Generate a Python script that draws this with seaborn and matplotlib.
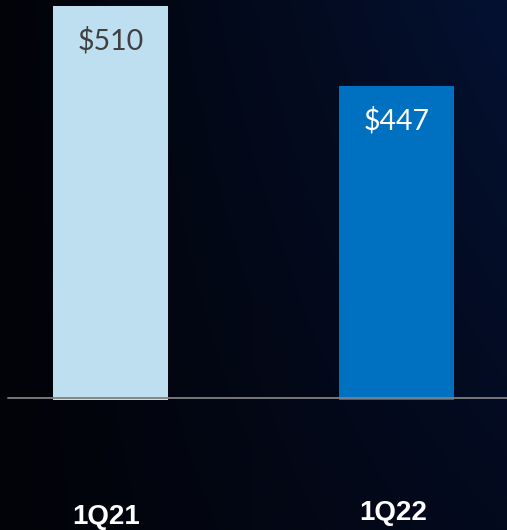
import numpy as np
import pandas as pd
import seaborn as sns
import matplotlib.pyplot as plt
from matplotlib.colors import to_rgb

# chart data
quarters = ['1Q21', '1Q22']
revenue = [510, 447]
value_labels = ['$510', '$447']
bar_colors = ['#BDDFF0', '#0070C0']
label_colors = ['#404040', '#FFFFFF']

df = pd.DataFrame({'quarter': quarters, 'revenue': revenue})

sns.set_theme(style='white')
plt.rcParams['font.family'] = ['Lato', 'DejaVu Sans']

fig = plt.figure(figsize=(5.07, 5.30), dpi=100)

# background gradient: black on the left to dark navy on the right
bg = fig.add_axes([0, 0, 1, 1], zorder=0)
h, w = 100, 200
tx = np.linspace(0, 1, w)[None, :, None]
ty = np.linspace(0, 1, h)[:, None, None]
left = np.array(to_rgb('#020308'))
right_top = np.array(to_rgb('#041131'))
right_bot = np.array(to_rgb('#040a1e'))
right = right_top * (1 - ty) + right_bot * ty
grad = left * (1 - tx) + right * tx
bg.imshow(grad, aspect='auto', extent=[0, 1, 0, 1], origin='upper')
bg.axis('off')

ax = fig.add_axes([0, 130 / 530, 1, 400 / 530], zorder=1)
ax.patch.set_alpha(0)
sns.barplot(data=df, x='quarter', y='revenue', hue='quarter',
            palette=bar_colors, width=0.402, saturation=1,
            edgecolor='none', linewidth=0, legend=False, ax=ax)

ax.set_xlim(-0.386, 1.386)
ax.set_ylim(200, 514.7)
ax.axhline(201.6, xmin=0.016, xmax=1, color='#808080', lw=1.3, zorder=3)

for i, (v, lab) in enumerate(zip(revenue, value_labels)):
    ax.text(i, v - 27, lab, ha='center', va='center', fontsize=20.5,
            color=label_colors[i])

# category labels under the axis
offsets = [(-4, -117), (-3, -113)]
for i, q in enumerate(quarters):
    ax.annotate(q, xy=(i, 200), xytext=offsets[i], textcoords='offset pixels',
                ha='center', va='center', fontsize=20, fontweight='bold',
                color='white', family=['Liberation Sans', 'DejaVu Sans'],
                annotation_clip=False)

ax.set_xlabel('')
ax.set_ylabel('')
ax.set_xticks([])
ax.set_yticks([])
sns.despine(ax=ax, left=True, bottom=True)

fig.savefig('out.png', dpi=100)
